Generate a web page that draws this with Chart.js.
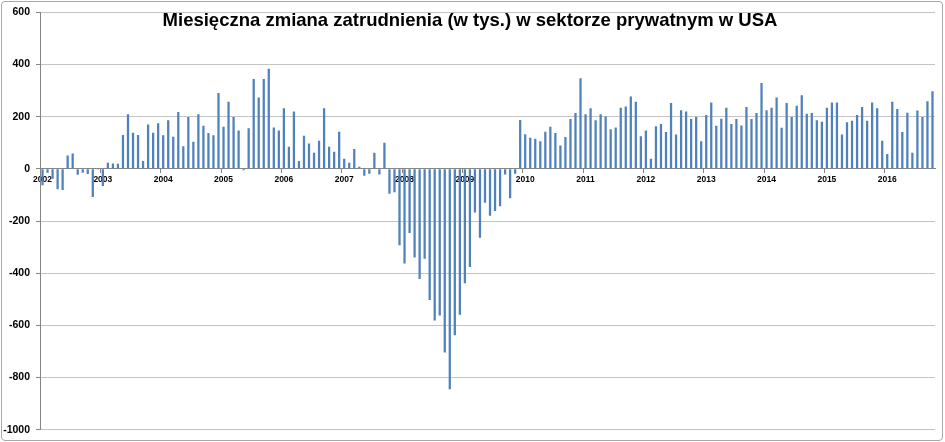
<!DOCTYPE html>
<html>
<head>
<meta charset="utf-8">
<script src="https://cdn.jsdelivr.net/npm/chart.js@4/dist/chart.umd.min.js"></script>
<style>
  html, body { margin: 0; padding: 0; background: #fff; }
  #wrap { position: relative; width: 945px; height: 442px; }
  #frame {
    position: absolute; left: 1px; top: 1px; width: 940px; height: 438px;
    border: 1px solid #a8a8a8; border-radius: 4px;
  }
  #chart { position: absolute; left: 0; top: 0; }
  #title {
    position: absolute; top: 11px; left: 470px; transform: translateX(-50%);
    white-space: nowrap; font-family: 'Liberation Sans', Arial, sans-serif;
    font-weight: bold; font-size: 18.5px; line-height: 18.5px; color: #000;
  }
</style>
</head>
<body>
<div id="wrap">
  <div id="frame"></div>
  <canvas id="chart" width="945" height="442"></canvas>
  <div id="title">Miesięczna zmiana zatrudnienia (w tys.) w sektorze prywatnym w USA</div>
</div>
<script>
// Years shown on the category axis (label sits on each January bar)
const years = ['2002', '2003', '2004', '2005', '2006', '2007', '2008', '2009',
  '2010', '2011', '2012', '2013', '2014', '2015', '2016'];

// Monthly change of private employment, thousands
const v2002 = [-63, -15, -38, -78, -81, 51, 59, -23, -15, -20, -108, -3];
const v2003 = [-66, 23, 20, 19, 130, 209, 138, 130, 30, 170, 138, 175];
const v2004 = [129, 186, 123, 218, 87, 199, 104, 209, 165, 137, 129, 291];
const v2005 = [161, 257, 199, 147, -5, 156, 344, 273, 344, 384, 158, 147];
const v2006 = [232, 85, 220, 30, 127, 97, 62, 108, 232, 85, 65, 142];
const v2007 = [39, 23, 76, 8, -27, -19, 62, -22, 100, -96, -90, -293];
const v2008 = [-363, -246, -340, -422, -345, -503, -581, -562, -704, -845, -638, -559];
const v2009 = [-439, -376, -167, -264, -130, -180, -162, -143, -22, -113, -19, 187];
const v2010 = [133, 119, 115, 106, 142, 161, 137, 89, 122, 191, 214, 347];
const v2011 = [209, 232, 186, 209, 201, 152, 158, 234, 239, 277, 257, 125];
const v2012 = [147, 39, 163, 172, 141, 252, 132, 225, 220, 191, 199, 106];
const v2013 = [206, 254, 165, 192, 234, 172, 191, 166, 237, 191, 214, 329];
const v2014 = [225, 234, 273, 157, 252, 199, 242, 282, 211, 214, 186, 180];
const v2015 = [234, 254, 254, 132, 179, 184, 206, 237, 184, 254, 232, 108];
const v2016 = [57, 257, 229, 141, 215, 62, 224, 199, 259, 297];

const yTicks = [600, 400, 200, 0, -200, -400, -600, -800, -1000];

const byYear = [v2002, v2003, v2004, v2005, v2006, v2007, v2008, v2009,
  v2010, v2011, v2012, v2013, v2014, v2015, v2016];

// Flatten into one category per month; only January carries the year label
const labels = [];
const values = [];
byYear.forEach((arr, i) => {
  arr.forEach((v, m) => {
    labels.push(m === 0 ? years[i] : '');
    values.push(v);
  });
});

new Chart(document.getElementById('chart'), {
  type: 'bar',
  data: {
    labels: labels,
    datasets: [{
      data: values,
      backgroundColor: '#4F81BD',
      borderWidth: 0,
      barPercentage: 0.45,
      categoryPercentage: 1.0
    }]
  },
  options: {
    responsive: false,
    animation: false,
    layout: { padding: { top: 11, right: 10, bottom: 12, left: 0 } },
    plugins: { legend: { display: false }, tooltip: { enabled: false } },
    scales: {
      x: {
        position: { y: 0 },
        offset: true,
        border: { color: '#868686', width: 1 },
        grid: {
          offset: true,
          drawOnChartArea: false,
          drawTicks: true,
          tickLength: 4,
          color: (ctx) => (ctx.index % 12 === 0 ? '#868686' : 'rgba(0,0,0,0)')
        },
        ticks: {
          autoSkip: false,
          maxRotation: 0,
          minRotation: 0,
          padding: 2,
          color: '#000',
          font: { family: "'Liberation Sans', Arial, sans-serif", size: 8.5, weight: 'bold' }
        }
      },
      y: {
        min: -1000,
        max: 600,
        afterFit: (scale) => { scale.width = 40; },
        afterBuildTicks: (scale) => { scale.ticks = yTicks.map(v => ({ value: v })); },
        border: { color: '#868686', width: 1 },
        grid: { color: '#c4c4c4', tickColor: '#868686', tickLength: 4 },
        ticks: {
          padding: 6,
          color: '#000',
          callback: (v) => String(v),
          font: { family: "'Liberation Sans', Arial, sans-serif", size: 10.5, weight: 'bold' }
        }
      }
    }
  }
});
</script>
</body>
</html>
